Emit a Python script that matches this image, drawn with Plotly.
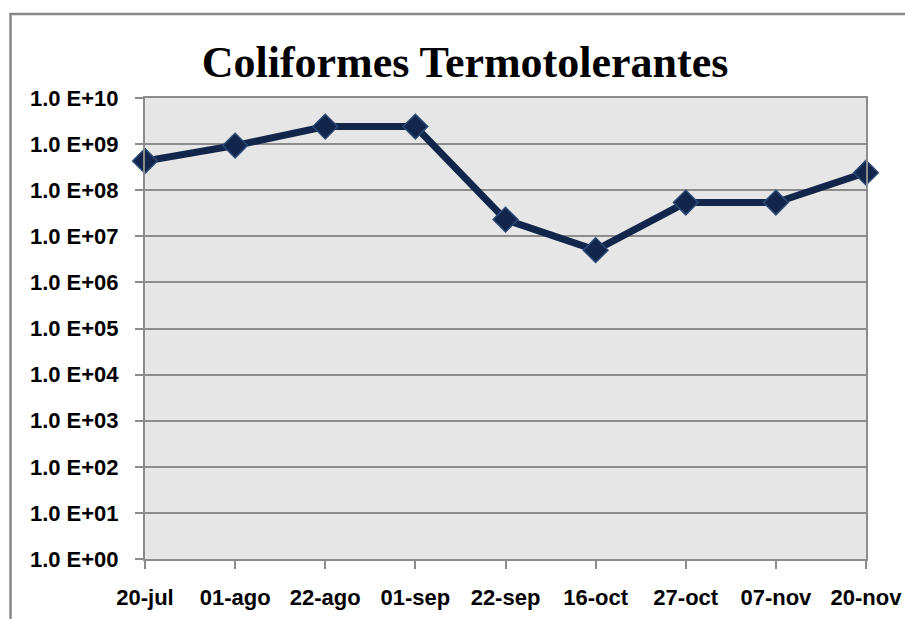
import plotly.graph_objects as go

categories = ["20-jul", "01-ago", "22-ago", "01-sep", "22-sep", "16-oct", "27-oct", "07-nov", "20-nov"]
coliformes = [4.3e8, 9.3e8, 2.4e9, 2.4e9, 2.3e7, 5.0e6, 5.4e7, 5.4e7, 2.4e8]
tick_values = [1e0, 1e1, 1e2, 1e3, 1e4, 1e5, 1e6, 1e7, 1e8, 1e9, 1e10]
tick_labels = ["1.0 E+00", "1.0 E+01", "1.0 E+02", "1.0 E+03", "1.0 E+04", "1.0 E+05",
               "1.0 E+06", "1.0 E+07", "1.0 E+08", "1.0 E+09", "1.0 E+10"]
title_text = "Coliformes Termotolerantes"

W, H = 905, 619
L, R, T, B = 145, 39, 98, 60
pw, ph = W - L - R, H - T - B

def px(x):
    return (x - L) / pw

def py(y):
    return (H - B - y) / ph

fig = go.Figure()
fig.add_trace(go.Scatter(
    x=categories, y=coliformes, mode="lines+markers",
    line=dict(color="#11264a", width=7),
    marker=dict(symbol="diamond", size=19, color="#11264a",
                line=dict(color="#2c4a78", width=1.5)),
    showlegend=False, cliponaxis=False,
))

gray = "#8c8c8c"
fig.update_layout(
    width=W, height=H,
    margin=dict(l=L, r=R, t=T, b=B, autoexpand=False),
    paper_bgcolor="white", plot_bgcolor="#e6e6e6",
    title=dict(text=f"<b>{title_text}</b>", x=465 / W, xanchor="center",
               y=1 - 62 / H, yanchor="middle", yref="container",
               font=dict(family="Liberation Serif", size=44, color="black")),
    font=dict(family="Liberation Sans", color="black"),
    xaxis=dict(type="category", range=[0, len(categories) - 1], automargin=False,
               showgrid=False, showline=True, linecolor=gray, linewidth=2,
               mirror=True, ticks="outside", ticklen=8, tickcolor=gray, tickwidth=2,
               tickfont=dict(family="Liberation Sans", size=22, color="black", weight="bold"),
               ticklabelstandoff=10),
    yaxis=dict(type="log", range=[0, 10], tickvals=tick_values, ticktext=tick_labels,
               automargin=False,
               showgrid=True, gridcolor=gray, gridwidth=2,
               showline=True, linecolor=gray, linewidth=2, mirror=True,
               ticks="outside", ticklen=8, tickcolor=gray, tickwidth=2,
               tickfont=dict(family="Liberation Sans", size=22, color="black", weight="bold"),
               ticklabelstandoff=12),
    shapes=[dict(type="rect", xref="paper", yref="paper",
                 x0=px(10.5), x1=px(915), y0=py(14), y1=py(630),
                 line=dict(color="#888888", width=2.5), layer="below")],
)

fig.write_html("out.html", config={"displayModeBar": False},
               post_script="document.body.style.margin='0';document.body.style.overflow='hidden';")
